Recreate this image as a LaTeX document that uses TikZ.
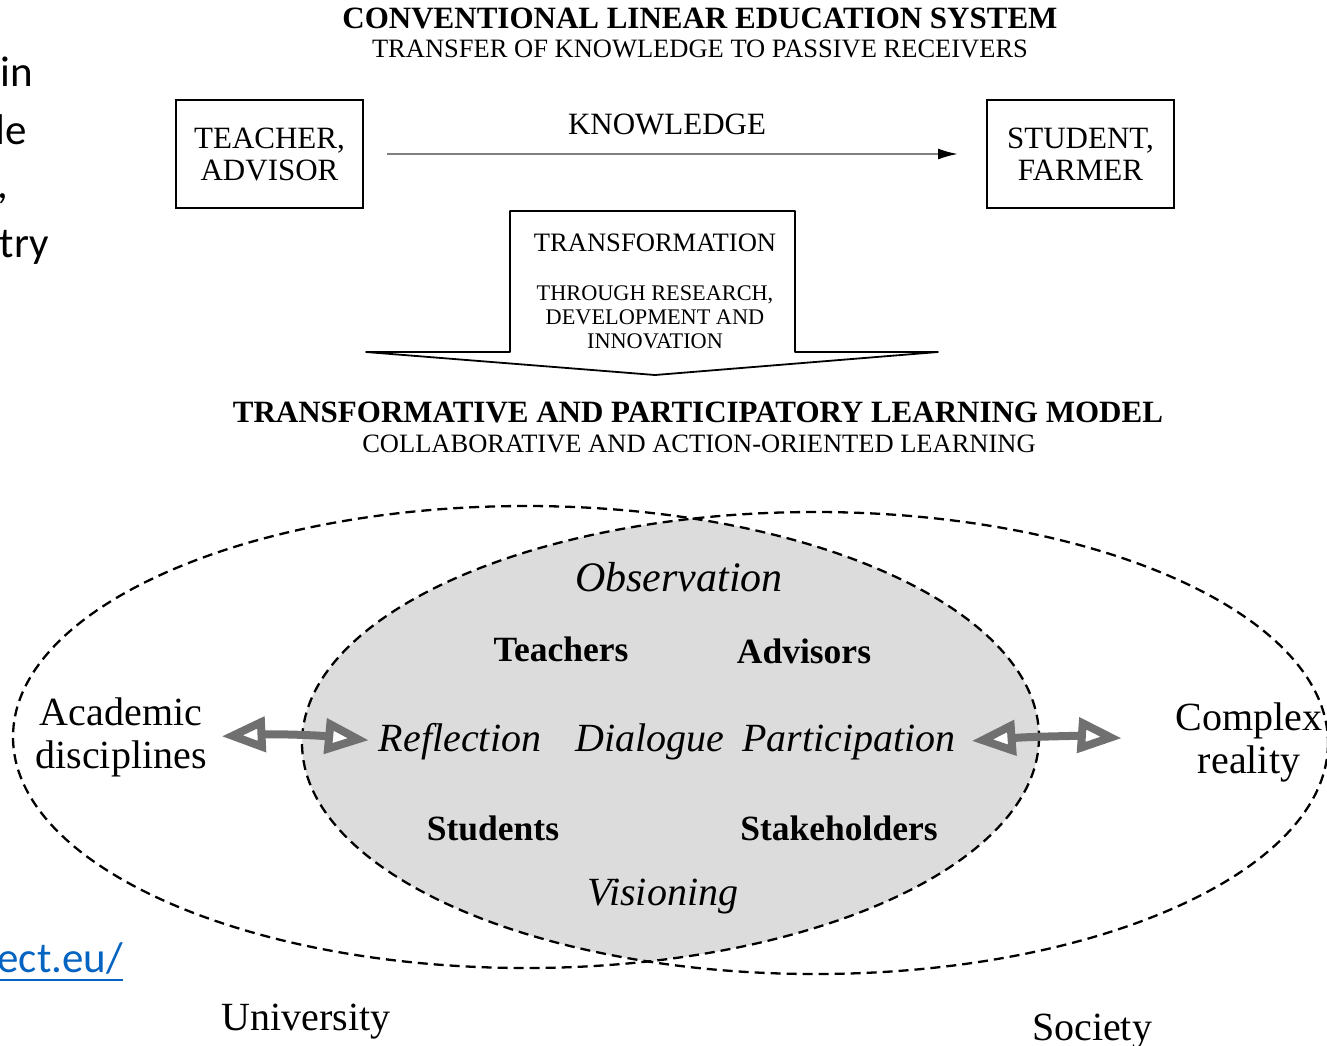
\documentclass[tikz,border=0pt]{standalone}
\usepackage{fontspec}
\setmainfont{Liberation Serif}
\newfontfamily\slidefont{Carlito}
\usetikzlibrary{arrows.meta}
\definecolor{lensgray}{RGB}{220,220,220}
\definecolor{arrowgray}{RGB}{112,112,112}
\definecolor{linkblue}{RGB}{5,99,193}
\begin{document}
\begin{tikzpicture}[x=1pt,y=-1pt,
	every node/.style={inner sep=0pt, outer sep=0pt},
	headline/.style={font=\fontsize{31}{34}\selectfont\bfseries, anchor=base},
	subline/.style={font=\fontsize{26.5}{30}\selectfont, anchor=base},
	rolebox/.style={draw, line width=1.6pt, minimum width=187pt, minimum height=108pt, align=center, font=\fontsize{31}{32}\selectfont},
	detail/.style={font=\fontsize{22.3}{24}\selectfont, align=center, anchor=north},
	actor/.style={font=\fontsize{35.5}{38}\selectfont\bfseries, anchor=base},
	activity/.style={font=\fontsize{40}{44}\selectfont\itshape, anchor=base},
	placename/.style={font=\fontsize{40}{43}\selectfont, align=center},
	dashline/.style={dash pattern=on 10pt off 6pt, line width=2.3pt},
	twoway/.style={arrowgray, line width=8pt, {Triangle[length=44pt,width=34pt,line width=8pt,fill=white]}-{Triangle[length=44pt,width=34pt,line width=8pt,fill=white]}},
	slide/.style={font=\slidefont\fontsize{43}{48}\selectfont, anchor=base east, text=black}]
	\useasboundingbox (0,0) rectangle (1327,1045);
	\clip (0,0) rectangle (1327,1045);
	% cut-off slide text
	\node[slide] (frag1) at (33,86) {in};
	\node[slide] (frag2) at (27,144) {le};
	\node[slide] (frag3) at (8,198) {,};
	\node[slide] (frag4) at (49,257) {try};
	\node[slide, text=linkblue] (url) at (123,972) {ect.eu/};
	\draw[linkblue, line width=2.5pt] ([yshift=-8pt]url.base west) -- ([yshift=-8pt]url.base east);
	% linear system
	\node[headline] (conv) at (700,28) {CONVENTIONAL LINEAR EDUCATION SYSTEM};
	\node[subline] (passive) at (700,57) {TRANSFER OF KNOWLEDGE TO PASSIVE RECEIVERS};
	\node[rolebox] (teacher) at (269.5,154) {TEACHER,\\ADVISOR};
	\node[rolebox] (student) at (1080.5,154) {STUDENT,\\FARMER};
	\draw[gray, line width=2pt, -{Latex[black,length=20pt,width=11pt]}, shorten <=24pt, shorten >=29pt] (teacher) -- (student);
	\node[subline, font=\fontsize{31}{34}\selectfont] (knowledge) at (667,134) {KNOWLEDGE};
	% transformation arrow
	\draw[line width=1.8pt, line join=round] (510,352) -- (510,211) -- (795,211) -- (795,352) -- (938,352) -- (655,375) -- (366,352) -- cycle;
	\node[subline, font=\fontsize{26.6}{30}\selectfont] (transf) at (655,251) {TRANSFORMATION};
	\node[detail] (rdi) at (655,286) {THROUGH RESEARCH,\\DEVELOPMENT AND\\INNOVATION};
	% participatory model
	\node[headline] (tplm) at (698,422) {TRANSFORMATIVE AND PARTICIPATORY LEARNING MODEL};
	\node[subline] (collab) at (699,452) {COLLABORATIVE AND ACTION-ORIENTED LEARNING};
	\begin{scope}
		\clip (526,737) ellipse [x radius=513, y radius=231];
		\fill[lensgray] (815,743) ellipse [x radius=513, y radius=231];
	\end{scope}
	\draw[dashline] (526,737) ellipse [x radius=513, y radius=231];
	\draw[dashline] (815,743) ellipse [x radius=513, y radius=231];
	\node[activity, font=\fontsize{42}{46}\selectfont\itshape] (obs) at (679,591) {Observation};
	\node[actor] (teachers) at (561,661) {Teachers};
	\node[actor] (advisors) at (804,663) {Advisors};
	\node[activity] (refl) at (460,751) {Reflection};
	\node[activity] (dial) at (650,751) {Dialogue};
	\node[activity] (partic) at (849,751) {Participation};
	\node[actor] (students) at (493,840) {Students};
	\node[actor] (stake) at (839,840) {Stakeholders};
	\node[activity] (vision) at (663,905) {Visioning};
	\node[placename] (acad) at (121,737) {Academic\\disciplines};
	\node[placename] (complex) at (1249,742) {Complex\\reality};
	\node[placename, anchor=base] (univ) at (306,1030) {University};
	\node[placename, anchor=base] (society) at (1092,1040) {Society};
	\draw[twoway, shorten <=15pt, shorten >=10pt] (acad.east) to[bend left=4] (refl.west);
	\draw[twoway, shorten <=16pt, shorten >=54pt] (partic.east) to[bend left=4] (complex.west);
\end{tikzpicture}
\end{document}
